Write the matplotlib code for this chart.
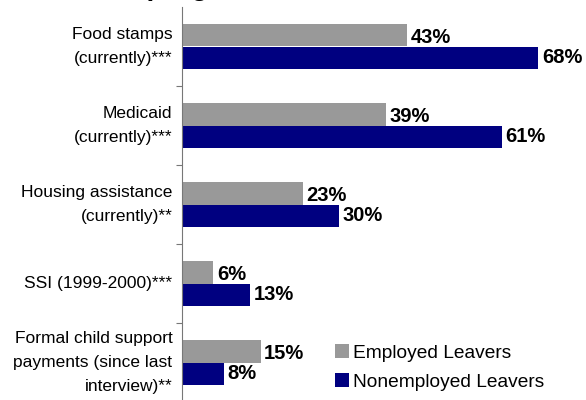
import matplotlib
matplotlib.use("Agg")
import matplotlib.pyplot as plt
import numpy as np

plt.rcParams['font.family'] = ['Liberation Sans', 'DejaVu Sans']

# program receipt by employment status (percent)
categories = ["Food stamps\n(currently)***",
              "Medicaid\n(currently)***",
              "Housing assistance\n(currently)**",
              "SSI (1999-2000)***",
              "Formal child support\npayments (since last\ninterview)**"]
employed = [43, 39, 23, 6, 15]
nonemployed = [68, 61, 30, 13, 8]
series_names = ["Employed Leavers", "Nonemployed Leavers"]
gray = "#999999"
navy = "#000080"

fig = plt.figure(figsize=(5.86, 4.0), dpi=100)
ax = fig.add_axes([182 / 586, -2 / 400, 404 / 586, 395 / 400])

y = np.arange(len(categories)) + 0.5
h = 0.29
ax.barh(y - h / 2, employed, height=h, color=gray, label=series_names[0])
ax.barh(y + h / 2, nonemployed, height=h, color=navy, label=series_names[1])

for yy, v in zip(y - h / 2, employed):
    ax.annotate(f"{v}%", (v, yy), xytext=(2.5, -1.5), textcoords="offset points",
                va="center", ha="left", fontsize=14.5, fontweight="bold")
for yy, v in zip(y + h / 2, nonemployed):
    ax.annotate(f"{v}%", (v, yy), xytext=(2.5, 0), textcoords="offset points",
                va="center", ha="left", fontsize=14.5, fontweight="bold")

ax.set_xlim(0, 77.1)
ax.set_ylim(len(categories), 0)

# category names sit between the boundary ticks
ax.set_yticks(np.arange(1, len(categories)))
ax.set_yticklabels([])
ax.tick_params(axis="y", which="major", direction="out", length=4, color="#777777")
ax.set_yticks(y, minor=True)
ax.set_yticklabels(categories, minor=True, fontsize=12.5, ha="right", va="center",
                   linespacing=1.75)
ax.tick_params(axis="y", which="minor", length=0, pad=7)
ax.set_xticks([])

for s in ["top", "right", "bottom"]:
    ax.spines[s].set_visible(False)
ax.spines["left"].set_color("#777777")

leg = ax.legend(loc="upper left", bbox_to_anchor=(335 / 586, 56 / 400),
                bbox_transform=fig.transFigure, frameon=False, fontsize=13.8,
                handlelength=0.75, handleheight=0.75, handletextpad=0.2,
                labelspacing=0.6, borderpad=0, borderaxespad=0)

# title, mostly above the visible area
fig.text(65 / 586, 1.012, "Other program use", fontsize=20, fontweight="bold",
         ha="left", va="baseline")

fig.savefig("out.png", dpi=100)
